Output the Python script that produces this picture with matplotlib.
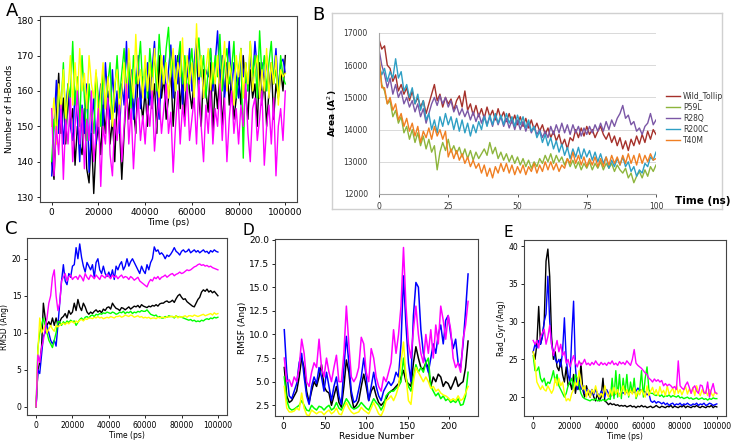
import numpy as np
import matplotlib
matplotlib.use("Agg")
import matplotlib.pyplot as plt

# ---- panel A: number of H-bonds vs time (ps)
hb_black = [140,135,152,165,148,158,145,160,150,155,
            139,150,145,142,155,138,134,148,131,145,
            150,142,156,148,160,145,152,140,158,150,
            135,148,160,152,164,155,148,166,158,152,
            160,150,168,155,162,148,170,158,164,152,
            158,166,150,162,170,155,164,152,168,160,
            155,164,172,158,150,166,160,154,168,148,
            162,155,166,150,160,168,156,164,152,158,
            164,156,170,160,152,166,158,162,150,168,
            156,164,150,160,168,152,162,158,166,160,170]
hb_blue = [136,150,163,148,158,145,155,162,150,146,
           160,152,140,156,148,162,137,150,158,145,
           155,162,150,168,158,152,166,154,160,148,
           162,156,174,158,166,152,160,170,155,164,
           158,168,156,166,174,160,152,164,170,158,
           166,173,158,170,162,172,156,168,164,172,
           160,168,175,162,170,158,166,164,172,160,
           168,177,162,170,158,166,174,160,168,164,
           158,172,164,168,160,170,162,174,166,158,
           168,162,170,158,166,164,172,160,168,169,165]
hb_green = [140,152,148,160,155,168,150,162,158,174,
            156,164,150,170,158,146,162,154,148,165,
            158,150,166,155,162,168,152,160,170,158,
            165,172,160,168,155,170,162,166,174,160,
            168,158,172,164,170,160,176,166,162,172,
            178,164,170,160,168,174,162,170,158,166,
            172,160,168,175,164,170,158,166,172,162,
            170,164,176,160,168,172,162,166,174,158,
            166,172,141,168,160,174,164,170,158,177,
            164,170,160,168,174,162,166,158,170,164,162]
hb_yellow = [150,158,145,162,155,166,152,160,170,156,
             168,158,172,160,165,155,170,162,158,166,
             150,160,168,155,164,158,150,162,166,154,
             160,168,156,172,164,158,176,162,166,158,
             170,160,168,156,172,164,158,170,162,168,
             158,166,172,160,168,164,175,160,170,162,
             168,158,179,164,170,158,166,172,160,168,
             162,170,158,166,174,160,168,164,156,170,
             164,172,158,168,162,174,160,166,170,158,
             166,160,172,158,168,162,170,156,166,164,165]
hb_magenta = [155,136,150,142,156,135,152,145,158,140,
              150,160,145,155,138,152,146,160,140,148,
              155,133,150,145,158,142,136,152,146,156,
              140,150,162,145,155,138,150,158,146,153,
              145,156,150,160,143,152,158,148,155,162,
              148,154,137,150,160,145,156,150,162,146,
              152,158,145,163,150,140,156,148,160,145,
              155,150,162,146,158,140,152,160,148,155,
              145,156,150,162,148,140,155,158,146,152,
              160,139,150,156,145,158,136,150,155,146,160]

# ---- panel B: SASA (A^2) vs time (ns)
b_labels = ["Wild_Tollip", "P59L", "R28Q", "R200C", "T40M"]
b_colors = ["#A5302A", "#8DB53C", "#7B57A6", "#2E9FC4", "#F07F22"]
sasa_wt = [16800,16500,16600,16000,15900,15500,15700,15200,15400,15100,
           15300,14900,15200,14800,15000,14700,14900,14500,14800,15100,
           15400,14900,15100,14700,15000,14800,14950,14600,14900,15050,
           14700,15200,14600,14800,14450,14750,14400,14650,14350,14700,
           14400,14600,14300,14650,14350,14550,14250,14500,14200,14450,
           14150,14400,14100,14350,14050,14300,14000,14200,13950,14150,
           13850,14050,13750,13950,13650,13850,13500,13700,13400,13750,
           13650,14000,13750,14050,13800,14100,13850,14000,13750,13950,
           14100,13850,13700,13900,13600,13800,13500,13750,13400,13650,
           13350,13700,13500,13800,13550,13850,13600,13950,13700,14000,13850]
sasa_p59l = [16200,15400,15200,14800,14900,14400,14600,14200,14400,13900,
             14100,13700,14000,13600,13900,13500,13800,13400,13700,13300,
             13500,12750,13300,13600,13350,13700,13300,13500,13250,13450,
             13150,13400,13100,13350,13050,13300,13100,13250,13400,13200,
             13600,13250,13450,13100,13300,13050,13250,13000,13200,12950,
             13150,12900,13100,12850,13050,12800,13000,12850,13100,12950,
             13200,13000,13250,12950,13200,13000,13150,12900,13100,12850,
             13050,12800,13000,12750,12950,12800,13000,12750,12950,12800,
             13000,12750,12950,12800,12950,12700,12900,12750,12650,12800,
             12500,12650,12350,12550,12700,12500,12750,12550,12850,12700,12900]
sasa_r28q = [16500,16000,15700,15300,15600,15100,15400,15000,15200,14800,
             15000,14700,14900,14550,14800,14400,14650,14200,14500,14800,
             15000,14750,15050,14800,15000,14700,14900,14550,14750,14450,
             14650,14400,14600,14300,14550,14250,14500,14200,14450,14150,
             14400,14100,14450,14150,14400,14100,14350,14050,14300,14000,
             14300,14000,14250,13950,14200,13900,14100,13850,14000,13750,
             13950,13750,14100,13850,14150,13900,14200,13900,14150,13850,
             14150,13900,14100,13800,14050,13850,14100,13900,14150,13950,
             14200,13950,14250,14000,14300,14100,14350,14500,14750,14350,
             14450,14150,14250,13950,14050,13850,14100,14200,14500,14150,14300]
sasa_r200c = [16000,15700,15900,15500,15800,15600,16200,15600,15800,15200,
              15400,15000,15300,14800,15100,14600,14900,14300,14500,14000,
              14300,13900,14400,14100,14500,14150,14400,14000,14350,13950,
              14300,13900,14200,13800,14150,13900,14250,14000,14400,14100,
              14450,14150,14500,14200,14450,14150,14500,14200,14400,14100,
              14450,14150,14400,14050,14300,13950,14100,13750,13950,13600,
              13850,13500,13750,13400,13650,13300,13550,13200,13450,13100,
              13400,13150,13450,13100,13400,13150,13350,13050,13300,13000,
              13250,12950,13150,12800,13050,12850,13100,12900,13150,12850,
              13000,12700,12850,12550,12750,12650,12950,12850,13150,13050,13300]
sasa_t40m = [16300,15300,15300,14800,15000,14600,14800,14300,14500,14100,
             14350,13950,14200,13800,14100,13600,13950,13750,14050,13700,
             14100,13800,14000,13700,13950,13150,13400,13100,13350,13050,
             13250,12950,13150,12850,13050,12800,12950,12650,12900,12550,
             12800,12500,12850,12650,12950,12700,12950,12650,12900,12600,
             12850,12650,12900,12600,12850,12700,12950,12650,12900,12700,
             13000,12750,13000,12750,12950,12700,12900,12800,13100,12950,
             13300,12950,13200,12900,13150,12850,13100,12900,13150,12850,
             13100,12850,13150,12900,13200,12950,13150,12900,13200,12950,
             13250,12950,13200,12900,13250,12950,13200,13000,13250,13050,13100]

# ---- panel C: RMSD (Ang) vs time (ps)
rmsd_black = [0,5.0,6.0,8.0,14.0,12.0,11.0,11.5,11.0,12.0,
              11.0,12.0,11.0,11.5,12.0,12.2,12.6,12.0,13.0,12.5,
              12.8,14.0,13.0,14.5,13.5,13.0,14.0,13.5,12.8,12.5,
              12.8,12.6,12.9,13.1,12.8,13.0,12.7,13.2,13.0,13.4,
              13.5,13.2,14.0,13.6,13.3,13.2,13.0,13.4,13.3,13.1,
              13.3,13.5,13.2,13.4,13.6,13.5,13.7,13.4,13.8,13.6,
              13.5,13.4,13.6,13.5,13.7,13.6,13.8,13.6,13.9,14.0,
              14.0,14.2,14.3,14.1,14.2,14.4,14.1,14.6,15.0,15.2,
              14.8,14.5,14.6,14.2,14.0,13.8,13.6,13.5,14.0,14.5,
              14.8,15.5,15.8,15.6,15.9,15.5,15.7,15.4,15.6,15.3,15.0]
rmsd_blue = [0,5.0,4.5,7.0,9.5,10.0,11.0,10.0,9.0,8.5,
             9.0,8.2,11.0,14.0,17.0,19.2,17.0,16.5,18.0,17.5,
             19.0,19.2,21.5,20.0,22.0,20.2,19.0,18.2,19.5,19.0,
             18.5,19.2,17.5,19.5,20.0,18.5,18.0,19.0,18.0,17.6,
             18.2,17.5,18.5,17.2,19.0,18.5,19.2,19.6,18.5,19.0,
             20.0,19.0,19.6,20.0,19.5,19.0,18.5,18.0,19.0,18.4,
             18.0,19.2,18.5,19.5,20.0,21.6,21.0,21.2,20.6,20.8,
             20.5,20.0,20.5,20.3,20.6,21.0,21.5,21.0,20.8,20.5,
             21.0,21.2,20.9,21.0,21.3,20.8,21.0,21.2,20.9,21.1,
             20.8,21.0,21.2,20.9,21.0,20.7,21.1,20.9,21.2,21.0,20.9]
rmsd_green = [0,8.0,10.0,11.0,12.0,11.0,10.0,9.0,8.5,8.0,
              9.0,10.0,11.5,11.5,11.0,11.5,11.2,11.6,11.4,11.7,
              11.5,11.6,11.0,11.4,11.8,12.0,11.7,12.1,12.2,12.0,
              12.3,12.4,12.2,12.5,12.4,12.6,12.5,12.7,12.6,12.8,
              12.7,12.6,12.8,12.7,12.5,12.6,12.8,12.7,12.9,12.6,
              12.8,12.7,12.9,12.6,12.8,12.7,12.9,12.8,13.0,12.9,
              12.9,13.1,12.8,12.5,12.4,12.3,12.4,12.1,12.2,12.0,
              12.0,12.2,12.1,12.3,12.2,12.2,12.0,12.3,12.1,12.2,
              12.1,12.0,11.9,11.8,11.7,11.8,11.6,11.7,11.5,11.6,
              11.5,11.7,11.6,11.8,11.9,11.8,12.0,11.9,12.1,12.0,12.1]
rmsd_yellow = [0,7.5,12.0,10.0,10.5,11.0,10.0,10.5,11.0,10.5,
               10.2,11.0,10.8,11.0,11.2,11.3,11.1,11.4,11.2,11.5,
               11.5,11.3,11.6,11.4,11.7,11.8,11.6,11.9,11.8,12.0,
               12.0,11.9,12.1,12.0,12.2,12.0,12.1,11.9,12.0,12.1,
               12.0,12.2,12.1,12.0,12.2,12.2,12.3,12.1,12.2,12.4,
               12.3,12.2,12.4,12.3,12.1,12.2,12.3,12.1,12.2,12.0,
               12.1,12.0,12.1,11.9,12.0,12.0,11.9,12.1,12.0,12.1,
               12.1,12.0,12.2,12.1,12.2,12.2,12.1,12.3,12.0,12.2,
               12.1,12.2,12.3,12.1,12.3,12.3,12.2,12.4,12.3,12.2,
               12.3,12.4,12.5,12.3,12.4,12.5,12.6,12.4,12.7,12.5,12.6]
rmsd_magenta = [0,7.0,6.0,8.0,9.0,10.5,12.0,14.0,15.0,17.5,
                18.5,15.0,13.0,14.0,17.0,17.5,18.0,17.0,17.6,17.8,
                17.2,17.5,17.6,17.2,17.8,17.5,17.0,18.0,17.5,17.2,
                17.8,17.6,17.3,17.8,17.5,17.2,17.8,17.6,17.4,17.9,
                17.6,17.3,17.8,17.5,17.7,17.3,17.6,17.8,17.4,17.6,
                17.5,17.2,17.6,17.4,17.1,17.3,17.5,17.0,16.8,16.6,
                16.4,16.2,16.8,17.2,17.0,17.5,17.3,17.6,17.2,17.5,
                17.6,17.8,17.5,17.7,17.9,18.0,17.7,17.9,18.0,18.2,
                18.0,18.1,18.3,18.5,18.4,18.5,18.7,18.9,19.0,19.2,
                19.3,19.1,19.2,19.0,19.1,18.9,19.0,18.8,18.7,18.6,18.5]

# ---- panel D: RMSF (Ang) per residue (every 3rd residue from 1)
rmsf_black = [6.5,3.5,2.8,3.0,3.5,4.0,5.5,7.5,6.5,4.0,2.8,4.0,5.0,4.5,5.5,6.8,4.5,4.0,3.8,2.5,
              3.5,4.5,2.8,2.3,4.5,7.3,6.0,3.5,2.2,2.5,3.0,4.5,5.8,4.5,3.0,4.0,4.5,3.5,2.8,2.5,
              2.8,3.2,3.8,4.0,4.2,4.5,4.8,5.5,6.2,5.0,4.8,4.5,7.0,8.7,7.5,6.5,6.3,7.0,6.5,4.5,
              5.5,5.0,5.8,5.5,4.5,5.0,4.8,4.2,4.8,5.5,4.5,4.8,5.0,6.5,9.3]
rmsf_blue = [10.5,6.0,3.5,3.2,4.0,4.8,7.0,8.0,5.5,3.5,2.6,4.5,5.5,4.8,6.5,5.5,4.0,6.0,4.5,3.0,
             4.5,5.5,3.5,2.6,6.5,9.8,7.0,4.0,2.8,3.0,4.2,5.5,7.5,5.5,3.0,4.5,6.0,4.5,3.5,3.0,
             4.0,4.5,5.0,4.6,5.0,6.0,5.5,9.0,16.2,11.0,7.0,5.0,12.0,15.5,15.0,10.5,8.0,7.0,6.0,7.5,
             9.0,8.0,10.0,11.0,9.0,11.5,12.0,10.0,8.5,9.5,7.0,6.5,9.0,12.5,16.4]
rmsf_green = [5.5,3.0,2.2,2.0,2.1,2.3,2.5,3.0,2.5,2.0,1.9,2.5,2.2,2.0,2.4,2.3,2.0,2.3,2.5,2.0,
              2.2,2.8,2.2,2.0,2.6,3.2,2.8,2.3,2.1,2.2,2.4,2.8,2.5,2.2,2.0,2.6,3.2,2.8,2.5,2.0,
              2.5,3.5,3.8,4.0,4.0,4.3,4.5,5.0,7.5,5.5,4.5,4.0,5.5,6.8,6.0,6.5,6.0,7.0,7.5,4.5,
              4.0,3.5,3.8,3.2,3.5,3.0,3.2,2.8,3.0,2.8,3.2,2.5,2.6,3.5,6.0]
rmsf_yellow = [4.5,2.2,1.8,1.8,1.9,2.2,2.0,3.8,2.2,1.5,1.4,2.0,1.8,1.6,1.8,1.8,1.5,1.8,2.0,1.6,
               1.8,2.2,1.6,1.5,2.2,2.8,2.2,1.8,1.6,1.7,1.8,2.3,2.0,1.8,1.6,2.2,2.8,2.2,1.6,1.4,
               2.0,3.0,3.2,3.5,3.0,3.6,4.5,7.0,9.2,5.5,3.0,2.6,5.0,6.5,6.0,5.5,5.0,5.5,5.0,4.3,
               4.5,4.0,4.2,3.8,3.6,3.5,3.3,3.0,3.2,3.0,3.5,3.0,3.2,3.8,4.5]
rmsf_magenta = [7.5,5.0,5.2,4.5,5.5,5.0,6.5,9.5,8.0,5.0,4.5,6.0,7.0,6.5,9.5,6.5,5.5,7.5,6.0,5.0,
                6.5,7.8,5.0,5.0,8.0,13.0,9.0,5.5,5.0,5.5,6.5,9.7,9.0,6.0,5.0,8.5,7.5,5.5,4.5,4.0,
                5.5,5.0,6.0,7.0,10.5,8.0,10.0,13.0,19.2,13.0,9.0,7.5,10.5,13.0,10.0,8.0,7.0,10.0,8.0,10.5,
                7.5,11.0,9.0,13.0,11.5,9.5,12.0,10.5,7.5,6.5,7.0,6.0,9.5,11.0,13.5]

# ---- panel E: radius of gyration (Ang) vs time (ps)
rg_black = [26.0,25.0,27.0,32.0,27.0,28.0,30.0,38.0,39.6,36.0,
            28.0,25.0,26.0,24.0,23.5,25.0,23.0,22.0,24.0,21.5,
            22.0,21.0,23.0,20.5,22.0,21.0,24.5,21.0,20.0,21.5,
            20.5,20.0,21.0,20.0,19.5,20.5,19.5,20.0,22.5,19.5,
            19.3,19.0,19.2,19.0,19.1,18.9,19.0,18.8,18.9,18.8,
            18.9,18.7,18.8,18.9,18.7,18.8,18.6,18.8,18.7,18.9,
            18.7,18.8,18.6,18.7,18.8,18.6,18.7,18.9,18.7,18.6,
            18.8,18.7,18.6,18.8,18.7,18.9,18.6,18.8,18.7,18.6,
            18.8,18.7,18.9,18.6,18.8,18.7,18.6,18.8,18.7,18.9,
            18.7,18.6,18.8,18.7,18.6,18.8,18.7,18.9,18.6,18.8,18.7]
rg_blue = [26.0,27.0,26.5,27.5,27.0,28.0,30.0,31.0,36.0,30.0,
           27.0,26.0,25.0,24.5,25.0,24.0,26.0,30.5,25.0,23.0,
           22.0,28.0,32.7,24.0,21.0,22.0,21.0,21.5,20.5,21.0,
           21.0,20.5,21.0,20.3,21.0,20.5,20.0,20.8,20.5,20.0,
           21.0,20.5,20.0,20.5,20.2,20.5,20.8,20.3,20.5,20.6,
           20.4,20.8,20.5,20.7,21.0,20.6,20.8,21.2,20.9,21.0,
           20.8,20.7,20.3,20.5,19.5,19.3,19.5,19.2,19.4,19.3,
           19.1,19.3,19.0,19.2,18.9,19.1,19.2,18.9,19.1,19.0,
           19.2,18.9,19.1,19.0,19.2,19.0,18.9,19.1,19.0,19.2,
           18.9,19.1,19.0,19.2,18.9,19.0,19.2,19.1,18.9,19.0,19.1]
rg_green = [25.5,23.5,23.5,24.0,22.5,22.0,22.5,21.5,22.0,21.8,
            22.5,23.5,22.0,23.0,21.5,21.0,20.5,20.0,20.5,21.5,
            22.0,22.5,21.0,23.0,22.5,21.5,20.5,20.0,19.8,19.7,
            19.6,19.5,19.7,19.6,19.8,19.5,19.6,19.5,19.7,19.5,
            19.6,19.8,19.7,22.5,19.8,23.5,20.0,23.0,19.8,22.5,
            20.5,23.0,20.0,22.0,20.5,22.5,19.8,20.5,21.0,23.5,
            20.0,22.5,24.0,21.0,20.5,20.5,20.3,20.2,20.4,20.1,
            20.3,20.0,20.2,20.1,20.3,20.0,20.2,20.1,20.0,20.2,
            19.9,20.0,19.8,19.9,20.0,19.8,19.9,19.7,19.8,19.9,
            19.7,19.8,19.9,19.7,19.8,19.6,19.8,19.7,19.9,19.8,19.8]
rg_yellow = [26.0,24.5,22.0,21.5,21.0,21.5,21.0,20.8,21.5,21.0,
             20.5,21.0,22.5,21.5,22.5,21.5,22.0,20.5,19.5,19.8,
             19.5,20.5,21.0,22.0,21.5,23.5,22.0,21.0,21.5,20.0,
             21.0,20.0,21.0,20.5,21.5,20.5,20.0,20.5,20.0,21.5,
             20.5,20.0,21.0,20.2,21.3,20.4,21.0,20.1,20.8,21.5,
             20.3,21.0,20.2,20.9,20.4,21.2,20.0,20.8,20.3,21.0,
             20.5,20.0,21.5,20.2,20.8,21.3,20.4,21.0,20.2,21.4,
             20.5,20.9,20.2,21.5,20.4,20.8,21.2,20.3,21.6,20.5,
             21.0,20.3,20.9,21.4,20.4,21.1,20.5,21.3,20.2,21.5,
             20.6,20.2,21.0,20.4,20.8,20.2,21.0,20.5,20.1,20.7,20.4]
rg_magenta = [27.5,27.0,27.5,26.5,28.0,28.5,29.0,27.0,28.0,29.5,
              27.0,25.5,26.5,27.5,26.0,27.0,25.5,26.0,24.5,25.0,
              24.0,24.8,25.5,24.5,24.0,24.8,24.2,24.5,25.0,24.3,
              24.5,24.2,24.6,24.3,24.8,24.4,24.2,24.6,24.3,24.5,
              24.2,24.6,24.4,24.8,24.3,24.5,24.2,24.7,24.4,24.6,
              24.3,24.8,24.5,24.2,25.0,26.3,24.5,24.2,24.0,23.8,
              23.5,23.2,23.0,22.5,22.3,22.0,22.4,22.1,22.3,22.0,
              22.2,21.5,21.8,21.5,21.7,21.5,21.2,21.4,21.0,24.8,
              21.5,21.2,21.0,21.6,22.0,21.3,20.5,21.2,21.5,20.8,
              20.5,21.6,21.5,20.6,20.5,22.0,20.0,21.0,21.8,20.6,20.5]

cols = ["black", "#0000ff", "#00ff00", "#ffff00", "#ff00ff"]

fig = plt.figure(figsize=(7.33, 4.44), dpi=100)
W, H = 733.0, 444.0


def ax_px(x0, y0, x1, y1):
    # axes box given in pixel coords (top-left origin)
    return fig.add_axes([x0 / W, 1 - y1 / H, (x1 - x0) / W, (y1 - y0) / H])


def style_py(ax, fs=6.5):
    ax.tick_params(labelsize=fs, length=2.5, width=0.6, pad=1.5)
    for s in ax.spines.values():
        s.set_linewidth(0.8)
        s.set_color("#444444")


# A
axA = ax_px(40, 16, 297, 202)
for s, c in zip([hb_black, hb_blue, hb_green, hb_yellow, hb_magenta], cols):
    axA.plot(np.linspace(0, 100000, len(s)), s, color=c, lw=1.0)
axA.set_xlim(-5000, 105000)
axA.set_ylim(128.6, 181.2)
axA.set_yticks([130, 140, 150, 160, 170, 180])
axA.set_xticks([0, 20000, 40000, 60000, 80000, 100000])
axA.set_xlabel("Time (ps)", fontsize=6.5, labelpad=1)
axA.set_ylabel("Number of H-Bonds", fontsize=6.5, labelpad=2)
style_py(axA)

# B (excel style)
frame = ax_px(332, 13, 722, 209)
frame.set_xticks([])
frame.set_yticks([])
for s in frame.spines.values():
    s.set_color("#d0d0d0")
    s.set_linewidth(1.0)
frame.set_zorder(0)

axB = ax_px(379, 33, 656, 194)
for s, lab, c in zip([sasa_wt, sasa_p59l, sasa_r28q, sasa_r200c, sasa_t40m], b_labels, b_colors):
    axB.plot(np.linspace(0, 100, len(s)), s, color=c, lw=1.0, label=lab)
axB.set_xlim(0, 100)
axB.set_ylim(12000, 17000)
axB.set_xticks([0, 25, 50, 75, 100])
axB.set_yticks([12000, 13000, 14000, 15000, 16000, 17000])
axB.grid(axis="y", color="#d9d9d9", lw=0.7)
axB.set_axisbelow(True)
for k in ["top", "right"]:
    axB.spines[k].set_visible(False)
for k in ["left", "bottom"]:
    axB.spines[k].set_color("#a6a6a6")
    axB.spines[k].set_linewidth(0.8)
axB.tick_params(axis="y", length=0, labelsize=5.5, pad=8, colors="#333333")
axB.tick_params(axis="x", length=2.5, labelsize=5.5, colors="#333333", width=0.6)
axB.set_ylabel("Area (A$^2$)", fontsize=6.5, fontweight="bold", labelpad=3)
axB.patch.set_alpha(0)
fig.text(675 / W, 1 - 201 / H, "Time (ns)", fontsize=7.5, fontweight="bold", va="center")
fig.legend(*axB.get_legend_handles_labels(), loc="upper left",
           bbox_to_anchor=(666 / W, 1 - 92 / H), frameon=False, fontsize=5.5,
           handlelength=1.8, labelspacing=0.25, handletextpad=0.4,
           borderaxespad=0, borderpad=0, labelcolor="#333333")

# C
axC = ax_px(27, 238, 227, 415)
for s, c in zip([rmsd_black, rmsd_blue, rmsd_green, rmsd_yellow, rmsd_magenta], cols):
    axC.plot(np.linspace(0, 100000, len(s)), s, color=c, lw=1.0)
axC.set_xlim(-5000, 105000)
axC.set_ylim(-1.1, 22.8)
axC.set_yticks([0, 5, 10, 15, 20])
axC.set_xticks([0, 20000, 40000, 60000, 80000, 100000])
axC.set_xlabel("Time (ps)", fontsize=5.5, labelpad=1)
axC.set_ylabel("RMSD (Ang)", fontsize=5.5, labelpad=2)
style_py(axC, 5.5)

# D
axD = ax_px(275, 239, 478, 416)
for s, c in zip([rmsf_black, rmsf_blue, rmsf_green, rmsf_yellow, rmsf_magenta], cols):
    axD.plot(1 + 3 * np.arange(len(s)), s, color=c, lw=1.1)
axD.set_xlim(-10.2, 235)
axD.set_ylim(1.37, 20.1)
axD.set_yticks([2.5, 5.0, 7.5, 10.0, 12.5, 15.0, 17.5, 20.0])
axD.set_xticks([0, 50, 100, 150, 200])
axD.set_xlabel("Residue Number", fontsize=6.5, labelpad=1)
axD.set_ylabel("RMSF (Ang)", fontsize=6.5, labelpad=2)
style_py(axD, 6.5)

# E
axE = ax_px(524, 240, 726, 416)
for s, c in zip([rg_black, rg_blue, rg_green, rg_yellow, rg_magenta], cols):
    axE.plot(np.linspace(0, 100000, len(s)), s, color=c, lw=1.0)
axE.set_xlim(-5000, 105000)
axE.set_ylim(17.5, 40.8)
axE.set_yticks([20, 25, 30, 35, 40])
axE.set_xticks([0, 20000, 40000, 60000, 80000, 100000])
axE.set_xlabel("Time (ps)", fontsize=5.5, labelpad=1)
axE.set_ylabel("Rad_Gyr (Ang)", fontsize=5.5, labelpad=2)
style_py(axE, 5.5)

# panel letters
for lab, x, y, fs in [("A", 12, 11, 13), ("B", 318, 15, 13), ("C", 11, 229, 13),
                      ("D", 248, 230, 11), ("E", 508, 232, 11)]:
    fig.text(x / W, 1 - y / H, lab, fontsize=fs, ha="center", va="center")

fig.savefig("out.png", dpi=100)
